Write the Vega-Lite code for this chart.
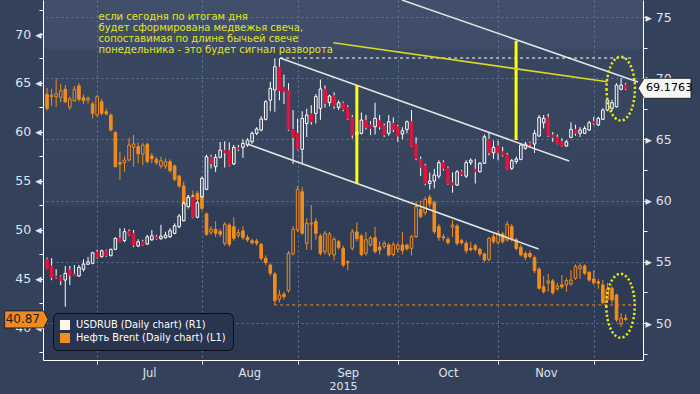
{
"$schema": "https://vega.github.io/schema/vega-lite/v6.json",
"width": 600, "height": 360,
"autosize": {"type": "none"},
"padding": {"left": 43, "top": 0, "right": 57, "bottom": 34},
"background": "#34415b",
"config": {
  "font": "DejaVu Sans",
  "view": {"stroke": null, "fill": {"gradient": "linear", "x1": 0, "y1": 0, "x2": 0, "y2": 1, "stops": [{"offset": 0, "color": "#414f6a"}, {"offset": 0.135, "color": "#3e4c67"}, {"offset": 0.137, "color": "#38465f"}, {"offset": 0.572, "color": "#35435d"}, {"offset": 0.575, "color": "#303d57"}, {"offset": 1, "color": "#2d3952"}]}}
},
"datasets": {
"leg": [{"s": "USDRUB (Daily chart) (R1)"}, {"s": "Нефть Brent (Daily chart) (L1)"}],
"one": [{}],
"c": [
{"t":-11,"uo":55.20,"uh":55.35,"ul":54.40,"uc":54.47,"bo":63.85,"bh":64.50,"bl":62.20,"bc":62.42},
{"t":-10,"uo":54.66,"uh":55.30,"ul":53.50,"uc":53.73,"bo":63.60,"bh":64.40,"bl":62.65,"bc":63.75},
{"t":-9,"uo":53.84,"uh":54.40,"ul":53.60,"uc":53.70,"bo":63.60,"bh":65.40,"bl":62.55,"bc":63.90},
{"t":-8,"uo":53.76,"uh":53.90,"ul":53.10,"uc":53.46,"bo":63.54,"bh":64.90,"bl":63.06,"bc":64.20},
{"t":-7,"uo":53.51,"uh":54.66,"ul":51.33,"uc":54.06,"bo":64.36,"bh":64.80,"bl":62.96,"bc":63.09},
{"t":-6,"uo":54.33,"uh":54.66,"ul":53.10,"uc":53.92,"bo":62.52,"bh":63.60,"bl":62.25,"bc":63.37},
{"t":-5,"uo":54.00,"uh":54.74,"ul":53.84,"uc":53.86,"bo":63.20,"bh":64.70,"bl":63.10,"bc":64.36},
{"t":-4,"uo":53.84,"uh":54.74,"ul":53.76,"uc":54.55,"bo":64.70,"bh":65.00,"bl":63.10,"bc":63.34},
{"t":-3,"uo":54.39,"uh":55.20,"ul":54.20,"uc":54.82,"bo":63.50,"bh":63.80,"bl":62.86,"bc":63.20},
{"t":-2,"uo":54.80,"uh":55.40,"ul":54.78,"uc":55.00,"bo":63.27,"bh":63.60,"bl":62.90,"bc":63.44},
{"t":-1,"uo":54.88,"uh":55.82,"ul":54.80,"uc":55.74,"bo":62.86,"bh":63.10,"bl":61.40,"bc":61.90},
{"t":0,"uo":55.78,"uh":56.00,"ul":55.25,"uc":55.37,"bo":61.73,"bh":63.80,"bl":61.56,"bc":63.60},
{"t":1,"uo":55.42,"uh":56.00,"ul":55.35,"uc":55.91,"bo":63.09,"bh":63.40,"bl":61.70,"bc":61.90},
{"t":2,"uo":55.90,"uh":56.00,"ul":55.40,"uc":55.50,"bo":62.07,"bh":62.40,"bl":61.70,"bc":61.84},
{"t":3,"uo":55.50,"uh":56.08,"ul":55.45,"uc":56.02,"bo":61.73,"bh":61.90,"bl":60.05,"bc":60.20},
{"t":4,"uo":56.02,"uh":57.00,"ul":55.96,"uc":56.92,"bo":59.93,"bh":60.10,"bl":56.40,"bc":56.46},
{"t":5,"uo":56.92,"uh":57.74,"ul":56.60,"uc":56.64,"bo":56.87,"bh":58.00,"bl":55.10,"bc":56.73},
{"t":6,"uo":56.73,"uh":57.74,"ul":56.60,"uc":57.46,"bo":56.87,"bh":57.50,"bl":55.95,"bc":57.14},
{"t":7,"uo":57.46,"uh":57.65,"ul":57.10,"uc":57.19,"bo":57.14,"bh":59.40,"bl":57.00,"bc":58.67},
{"t":8,"uo":57.33,"uh":57.60,"ul":56.20,"uc":56.37,"bo":58.44,"bh":59.70,"bl":56.46,"bc":58.78},
{"t":9,"uo":56.29,"uh":56.85,"ul":56.20,"uc":56.64,"bo":58.50,"bh":58.90,"bl":56.80,"bc":57.76},
{"t":10,"uo":56.64,"uh":56.80,"ul":56.30,"uc":56.37,"bo":57.76,"bh":58.90,"bl":56.60,"bc":58.67},
{"t":11,"uo":56.45,"uh":57.20,"ul":56.40,"uc":57.05,"bo":58.74,"bh":58.90,"bl":56.80,"bc":56.97},
{"t":12,"uo":56.80,"uh":57.60,"ul":56.70,"uc":57.13,"bo":57.55,"bh":57.85,"bl":56.80,"bc":57.30},
{"t":13,"uo":57.05,"uh":57.20,"ul":56.80,"uc":56.89,"bo":57.20,"bh":57.45,"bl":56.65,"bc":56.87},
{"t":14,"uo":56.89,"uh":58.03,"ul":56.80,"uc":57.10,"bo":56.53,"bh":57.45,"bl":56.25,"bc":57.07},
{"t":15,"uo":56.97,"uh":57.45,"ul":56.90,"uc":57.19,"bo":56.53,"bh":57.30,"bl":56.25,"bc":56.97},
{"t":16,"uo":57.05,"uh":57.75,"ul":56.95,"uc":57.54,"bo":56.97,"bh":57.20,"bl":55.85,"bc":56.05},
{"t":17,"uo":57.33,"uh":58.15,"ul":57.25,"uc":57.95,"bo":56.53,"bh":56.70,"bl":55.00,"bc":55.17},
{"t":18,"uo":57.87,"uh":58.90,"ul":57.75,"uc":58.74,"bo":55.50,"bh":55.60,"bl":54.30,"bc":54.50},
{"t":19,"uo":58.36,"uh":59.95,"ul":58.30,"uc":59.78,"bo":54.49,"bh":54.93,"bl":52.20,"bc":52.38},
{"t":20,"uo":59.50,"uh":60.46,"ul":59.45,"uc":60.27,"bo":52.55,"bh":53.60,"bl":52.10,"bc":53.34},
{"t":21,"uo":60.27,"uh":60.46,"ul":58.55,"uc":58.64,"bo":53.30,"bh":54.00,"bl":52.80,"bc":53.50},
{"t":22,"uo":58.64,"uh":59.95,"ul":58.55,"uc":59.83,"bo":53.74,"bh":54.00,"bl":52.90,"bc":53.13},
{"t":23,"uo":60.32,"uh":61.97,"ul":60.27,"uc":61.82,"bo":54.36,"bh":54.50,"bl":52.00,"bc":52.21},
{"t":24,"uo":60.92,"uh":63.75,"ul":60.85,"uc":63.58,"bo":51.63,"bh":51.80,"bl":49.40,"bc":49.56},
{"t":25,"uo":63.54,"uh":63.75,"ul":62.62,"uc":63.05,"bo":49.77,"bh":50.40,"bl":49.50,"bc":50.10},
{"t":26,"uo":62.77,"uh":63.80,"ul":62.35,"uc":63.54,"bo":50.07,"bh":50.90,"bl":49.30,"bc":49.66},
{"t":27,"uo":63.54,"uh":64.80,"ul":63.45,"uc":64.13,"bo":49.83,"bh":50.10,"bl":49.30,"bc":49.56},
{"t":28,"uo":64.08,"uh":64.85,"ul":62.70,"uc":63.91,"bo":48.64,"bh":50.80,"bl":48.40,"bc":50.58},
{"t":29,"uo":64.08,"uh":64.75,"ul":62.80,"uc":62.90,"bo":50.50,"bh":50.70,"bl":48.30,"bc":48.54},
{"t":30,"uo":63.00,"uh":64.55,"ul":62.90,"uc":64.35,"bo":50.34,"bh":51.30,"bl":48.90,"bc":49.15},
{"t":31,"uo":64.30,"uh":64.55,"ul":64.05,"uc":64.20,"bo":49.46,"bh":50.10,"bl":49.20,"bc":49.73},
{"t":32,"uo":64.35,"uh":65.00,"ul":63.50,"uc":64.68,"bo":49.90,"bh":50.40,"bl":49.00,"bc":49.25},
{"t":33,"uo":64.54,"uh":65.10,"ul":64.40,"uc":64.95,"bo":49.25,"bh":49.50,"bl":48.80,"bc":48.98},
{"t":34,"uo":64.81,"uh":65.65,"ul":64.65,"uc":65.50,"bo":48.90,"bh":49.10,"bl":48.50,"bc":48.70},
{"t":35,"uo":65.50,"uh":66.00,"ul":65.35,"uc":65.85,"bo":48.88,"bh":49.10,"bl":48.40,"bc":48.64},
{"t":36,"uo":65.77,"uh":66.90,"ul":65.65,"uc":66.67,"bo":48.54,"bh":48.70,"bl":46.90,"bc":47.11},
{"t":37,"uo":66.64,"uh":68.20,"ul":66.55,"uc":68.08,"bo":47.11,"bh":47.40,"bl":46.40,"bc":46.67},
{"t":38,"uo":68.20,"uh":69.70,"ul":67.30,"uc":69.17,"bo":46.43,"bh":46.60,"bl":45.30,"bc":45.58},
{"t":39,"uo":69.04,"uh":71.63,"ul":67.26,"uc":70.94,"bo":45.51,"bh":45.70,"bl":42.35,"bc":42.79},
{"t":40,"uo":70.90,"uh":71.63,"ul":68.20,"uc":68.98,"bo":42.93,"bh":43.90,"bl":42.60,"bc":43.37},
{"t":41,"uo":69.25,"uh":70.30,"ul":67.90,"uc":68.90,"bo":43.44,"bh":43.70,"bl":42.90,"bc":43.20},
{"t":42,"uo":68.97,"uh":69.60,"ul":65.70,"uc":65.82,"bo":43.80,"bh":47.85,"bl":43.60,"bc":47.62},
{"t":43,"uo":65.82,"uh":67.40,"ul":63.00,"uc":65.17,"bo":47.55,"bh":50.40,"bl":47.40,"bc":50.07},
{"t":44,"uo":65.50,"uh":66.70,"ul":64.10,"uc":64.19,"bo":50.00,"bh":54.50,"bl":49.80,"bc":54.15},
{"t":45,"uo":64.19,"uh":67.30,"ul":63.05,"uc":66.72,"bo":53.90,"bh":54.40,"bl":49.50,"bc":49.66},
{"t":46,"uo":66.30,"uh":67.50,"ul":65.20,"uc":66.99,"bo":48.64,"bh":51.20,"bl":47.96,"bc":50.68},
{"t":47,"uo":67.08,"uh":67.80,"ul":66.20,"uc":66.45,"bo":50.60,"bh":52.55,"bl":47.96,"bc":50.70},
{"t":48,"uo":67.13,"uh":68.70,"ul":66.30,"uc":68.50,"bo":50.85,"bh":51.20,"bl":49.00,"bc":49.66},
{"t":49,"uo":67.54,"uh":69.90,"ul":66.60,"uc":69.12,"bo":49.39,"bh":49.60,"bl":47.40,"bc":47.62},
{"t":50,"uo":69.10,"uh":69.40,"ul":67.60,"uc":67.95,"bo":47.79,"bh":49.90,"bl":47.50,"bc":49.66},
{"t":51,"uo":68.00,"uh":68.65,"ul":67.70,"uc":68.55,"bo":47.55,"bh":49.80,"bl":47.30,"bc":49.59},
{"t":52,"uo":68.55,"uh":68.85,"ul":67.50,"uc":67.73,"bo":47.45,"bh":49.30,"bl":46.90,"bc":49.05},
{"t":53,"uo":67.62,"uh":68.20,"ul":67.40,"uc":68.00,"bo":48.80,"bh":49.00,"bl":48.00,"bc":48.23},
{"t":54,"uo":67.95,"uh":68.10,"ul":67.30,"uc":67.46,"bo":48.13,"bh":48.40,"bl":46.20,"bc":46.43},
{"t":55,"uo":67.62,"uh":67.80,"ul":66.60,"uc":66.72,"bo":46.75,"bh":46.90,"bl":45.90,"bc":46.65},
{"t":56,"uo":66.80,"uh":67.00,"ul":65.10,"uc":65.36,"bo":48.13,"bh":50.10,"bl":47.90,"bc":49.80},
{"t":57,"uo":65.36,"uh":65.90,"ul":65.10,"uc":65.63,"bo":49.80,"bh":50.80,"bl":48.80,"bc":49.10},
{"t":58,"uo":65.50,"uh":67.20,"ul":65.40,"uc":66.58,"bo":49.39,"bh":49.60,"bl":47.30,"bc":47.50},
{"t":59,"uo":66.53,"uh":67.00,"ul":65.80,"uc":65.99,"bo":47.62,"bh":49.80,"bl":47.40,"bc":49.00},
{"t":60,"uo":66.20,"uh":66.50,"ul":65.35,"uc":65.90,"bo":48.47,"bh":49.40,"bl":48.30,"bc":49.18},
{"t":61,"uo":66.04,"uh":68.00,"ul":65.40,"uc":66.72,"bo":49.22,"bh":50.30,"bl":47.60,"bc":47.79},
{"t":62,"uo":66.53,"uh":67.00,"ul":65.80,"uc":66.04,"bo":48.25,"bh":48.80,"bl":47.50,"bc":47.96},
{"t":63,"uo":66.10,"uh":66.30,"ul":65.20,"uc":65.36,"bo":48.30,"bh":48.90,"bl":48.10,"bc":48.64},
{"t":64,"uo":65.50,"uh":67.00,"ul":65.30,"uc":66.45,"bo":48.47,"bh":48.70,"bl":47.30,"bc":47.45},
{"t":65,"uo":66.30,"uh":66.80,"ul":65.60,"uc":65.82,"bo":47.49,"bh":48.80,"bl":47.30,"bc":48.50},
{"t":66,"uo":66.04,"uh":66.20,"ul":64.80,"uc":65.28,"bo":48.05,"bh":48.70,"bl":47.70,"bc":48.47},
{"t":67,"uo":65.44,"uh":66.00,"ul":65.00,"uc":65.71,"bo":48.47,"bh":49.80,"bl":47.50,"bc":47.90},
{"t":68,"uo":65.82,"uh":66.55,"ul":65.50,"uc":66.45,"bo":48.45,"bh":48.60,"bl":47.90,"bc":48.10},
{"t":69,"uo":66.45,"uh":67.40,"ul":64.40,"uc":64.46,"bo":48.13,"bh":49.50,"bl":47.40,"bc":49.32},
{"t":70,"uo":64.62,"uh":65.20,"ul":63.30,"uc":63.45,"bo":49.32,"bh":52.90,"bl":49.20,"bc":52.40},
{"t":71,"uo":63.37,"uh":63.60,"ul":62.00,"uc":62.72,"bo":52.10,"bh":53.00,"bl":51.20,"bc":51.36},
{"t":72,"uo":62.83,"uh":63.00,"ul":61.25,"uc":61.40,"bo":51.77,"bh":53.40,"bl":51.50,"bc":53.13},
{"t":73,"uo":61.40,"uh":62.30,"ul":60.90,"uc":61.60,"bo":53.34,"bh":53.60,"bl":52.30,"bc":52.65},
{"t":74,"uo":61.60,"uh":62.60,"ul":61.00,"uc":62.10,"bo":52.79,"bh":53.00,"bl":49.60,"bc":49.83},
{"t":75,"uo":62.00,"uh":63.30,"ul":61.80,"uc":63.10,"bo":50.34,"bh":50.60,"bl":48.90,"bc":49.25},
{"t":76,"uo":63.10,"uh":63.30,"ul":62.45,"uc":62.64,"bo":49.30,"bh":49.60,"bl":48.90,"bc":49.20},
{"t":77,"uo":62.64,"uh":62.80,"ul":61.30,"uc":61.41,"bo":49.05,"bh":49.30,"bl":48.50,"bc":48.70},
{"t":78,"uo":61.46,"uh":62.30,"ul":60.65,"uc":61.27,"bo":50.30,"bh":51.00,"bl":49.30,"bc":50.50},
{"t":79,"uo":61.27,"uh":62.50,"ul":61.20,"uc":62.36,"bo":50.40,"bh":50.60,"bl":48.40,"bc":48.64},
{"t":80,"uo":62.36,"uh":62.50,"ul":62.00,"uc":62.17,"bo":48.90,"bh":49.10,"bl":48.50,"bc":48.70},
{"t":81,"uo":62.00,"uh":63.30,"ul":61.85,"uc":63.10,"bo":48.64,"bh":48.90,"bl":47.60,"bc":47.89},
{"t":82,"uo":63.10,"uh":63.45,"ul":62.90,"uc":63.30,"bo":48.13,"bh":48.80,"bl":47.80,"bc":47.99},
{"t":83,"uo":62.55,"uh":63.40,"ul":61.40,"uc":62.36,"bo":48.40,"bh":48.60,"bl":47.80,"bc":48.03},
{"t":84,"uo":62.36,"uh":63.15,"ul":62.30,"uc":63.05,"bo":48.03,"bh":48.20,"bl":47.30,"bc":47.55},
{"t":85,"uo":63.05,"uh":65.40,"ul":63.00,"uc":65.22,"bo":47.55,"bh":47.70,"bl":46.70,"bc":46.94},
{"t":86,"uo":65.00,"uh":65.60,"ul":63.70,"uc":63.91,"bo":47.00,"bh":49.30,"bl":46.80,"bc":49.15},
{"t":87,"uo":63.91,"uh":64.90,"ul":63.40,"uc":64.35,"bo":49.32,"bh":49.60,"bl":48.60,"bc":48.80},
{"t":88,"uo":64.46,"uh":64.90,"ul":63.30,"uc":63.91,"bo":48.70,"bh":50.00,"bl":48.50,"bc":49.66},
{"t":89,"uo":63.99,"uh":64.40,"ul":63.60,"uc":63.73,"bo":49.59,"bh":49.80,"bl":48.60,"bc":48.80},
{"t":90,"uo":63.73,"uh":63.90,"ul":62.50,"uc":62.58,"bo":48.98,"bh":50.90,"bl":48.80,"bc":50.58},
{"t":91,"uo":62.64,"uh":63.40,"ul":62.50,"uc":63.26,"bo":50.34,"bh":50.60,"bl":48.80,"bc":49.00},
{"t":92,"uo":63.20,"uh":63.60,"ul":63.00,"uc":63.40,"bo":49.00,"bh":49.20,"bl":47.90,"bc":48.10},
{"t":93,"uo":63.37,"uh":64.70,"ul":63.30,"uc":64.54,"bo":48.23,"bh":48.50,"bl":47.30,"bc":47.45},
{"t":94,"uo":64.27,"uh":64.80,"ul":64.15,"uc":64.62,"bo":47.62,"bh":47.80,"bl":46.90,"bc":47.21},
{"t":95,"uo":64.68,"uh":64.82,"ul":64.40,"uc":64.57,"bo":47.60,"bh":47.90,"bl":47.10,"bc":47.30},
{"t":96,"uo":64.62,"uh":65.78,"ul":63.90,"uc":65.50,"bo":47.17,"bh":47.40,"bl":45.60,"bc":45.85},
{"t":97,"uo":65.28,"uh":67.00,"ul":65.20,"uc":66.80,"bo":46.00,"bh":46.20,"bl":43.90,"bc":44.05},
{"t":98,"uo":66.36,"uh":67.00,"ul":65.90,"uc":66.72,"bo":44.20,"bh":45.30,"bl":43.50,"bc":43.70},
{"t":99,"uo":66.80,"uh":67.10,"ul":65.20,"uc":65.30,"bo":44.60,"bh":45.50,"bl":43.70,"bc":44.80},
{"t":100,"uo":65.36,"uh":65.60,"ul":64.80,"uc":65.17,"bo":44.80,"bh":45.00,"bl":43.40,"bc":43.60},
{"t":101,"uo":65.17,"uh":65.40,"ul":64.60,"uc":64.68,"bo":44.00,"bh":44.60,"bl":43.80,"bc":44.28},
{"t":102,"uo":64.81,"uh":65.10,"ul":64.40,"uc":64.46,"bo":44.40,"bh":45.40,"bl":44.00,"bc":44.20},
{"t":103,"uo":64.46,"uh":64.95,"ul":64.40,"uc":64.81,"bo":44.39,"bh":45.10,"bl":43.70,"bc":44.83},
{"t":104,"uo":65.17,"uh":66.40,"ul":65.10,"uc":65.82,"bo":44.50,"bh":45.90,"bl":44.30,"bc":44.90},
{"t":105,"uo":65.82,"uh":66.20,"ul":65.30,"uc":65.50,"bo":45.07,"bh":46.50,"bl":44.90,"bc":46.26},
{"t":106,"uo":65.50,"uh":66.00,"ul":65.20,"uc":65.77,"bo":46.05,"bh":46.60,"bl":45.00,"bc":46.33},
{"t":107,"uo":65.50,"uh":66.10,"ul":65.45,"uc":65.90,"bo":46.33,"bh":46.50,"bl":45.40,"bc":45.58},
{"t":108,"uo":65.77,"uh":66.52,"ul":65.70,"uc":66.36,"bo":45.68,"bh":45.80,"bl":44.70,"bc":44.90},
{"t":109,"uo":66.48,"uh":66.85,"ul":66.20,"uc":66.34,"bo":45.00,"bh":45.90,"bl":44.40,"bc":44.62},
{"t":110,"uo":66.18,"uh":66.85,"ul":66.10,"uc":66.72,"bo":44.72,"bh":45.00,"bl":44.00,"bc":44.56},
{"t":111,"uo":66.64,"uh":67.55,"ul":66.60,"uc":67.40,"bo":44.39,"bh":44.90,"bl":42.40,"bc":42.58},
{"t":112,"uo":67.40,"uh":68.35,"ul":67.30,"uc":68.22,"bo":42.86,"bh":44.60,"bl":42.60,"bc":43.95},
{"t":113,"uo":67.54,"uh":68.25,"ul":67.30,"uc":68.00,"bo":44.05,"bh":44.30,"bl":42.50,"bc":42.86},
{"t":114,"uo":67.67,"uh":69.60,"ul":67.60,"uc":69.44,"bo":43.37,"bh":43.50,"bl":40.60,"bc":40.82},
{"t":115,"uo":69.10,"uh":70.00,"ul":69.00,"uc":69.44,"bo":40.40,"bh":41.50,"bl":40.10,"bc":40.99},
{"t":116,"uo":69.44,"uh":69.60,"ul":69.05,"uc":69.18,"bo":41.00,"bh":41.40,"bl":40.70,"bc":40.87}
]},
"layer": [
 {"data": {"name": "leg"},
  "mark": {"type": "square", "opacity": 0},
  "encoding": {"color": {"field": "s", "type": "nominal",
    "scale": {"domain": ["USDRUB (Daily chart) (R1)", "Нефть Brent (Daily chart) (L1)"], "range": ["#fdf5ea", "#f28c1c"]},
    "legend": {"orient": "none", "legendX": 10, "legendY": 313, "title": null, "direction": "vertical",
      "symbolType": "square", "symbolSize": 100, "symbolOpacity": 1, "symbolStrokeWidth": 0,
      "labelColor": "#ffffff", "labelFontSize": 9.8, "labelFont": "DejaVu Sans", "labelLimit": 300, "labelOffset": 6,
      "fillColor": "#29344e", "strokeColor": "#0b0d14", "cornerRadius": 5, "padding": 7, "rowPadding": 3}}}},
 {"data": {"name": "c"},
  "mark": {"type": "rule", "color": "#f28c1c", "strokeWidth": 1, "clip": true},
  "encoding": {
   "x": {"field": "t", "type": "quantitative", "scale": {"domain": [-10.79, 118.71], "nice": false, "zero": false},
     "axis": {"orient": "bottom", "values": [0, 11.4, 23, 33.4, 44, 55, 66, 77, 88, 98.5, 109],
       "labelExpr": "datum.value == 11.4 ? 'Jul' : datum.value == 33.4 ? 'Aug' : datum.value == 55 ? 'Sep' : datum.value == 77 ? 'Oct' : datum.value == 98.5 ? 'Nov' : ''",
       "labelOverlap": false, "labelFlush": false, "labelBound": false,
       "labelColor": "#dfe5ef", "labelFontSize": 11.5, "labelFont": "DejaVu Sans", "labelPadding": 3,
       "domainColor": "#ffffff", "domainWidth": 1, "tickColor": "#ffffff", "tickSize": 4,
       "tickOpacity": {"condition": {"test": "indexof([0,23,44,66,88,109], datum.value) >= 0", "value": 1}, "value": 0},
       "grid": true, "gridColor": "#5f7896", "gridDash": [2, 3], "gridWidth": 1,
       "gridOpacity": {"condition": {"test": "indexof([0,23,44,66,88,109], datum.value) >= 0", "value": 1}, "value": 0},
       "title": "2015", "titleColor": "#dfe5ef", "titleFontSize": 11, "titleFontWeight": "normal", "titleFont": "DejaVu Sans", "titlePadding": 2}},
   "y": {"field": "bl", "type": "quantitative", "scale": {"domain": [36.73, 73.47], "nice": false, "zero": false},
     "axis": {"orient": "left", "values": [37.5, 40, 42.5, 45, 47.5, 50, 52.5, 55, 57.5, 60, 62.5, 65, 67.5, 70, 72.5],
       "labelExpr": "datum.value % 5 === 0 ? datum.label + ' ◂' : ''", "labelOverlap": false, "labelFlush": false,
       "labelColor": "#dfe5ef", "labelFontSize": 12.5, "labelFont": "DejaVu Sans", "labelPadding": -2,
       "domainColor": "#ffffff", "tickColor": "#ffffff", "tickSize": 4, "grid": false, "title": null}},
   "y2": {"field": "bh"}}},
 {"data": {"name": "c"},
  "mark": {"type": "bar", "width": 2.6, "strokeWidth": 1, "clip": true},
  "encoding": {
   "x": {"field": "t", "type": "quantitative", "scale": {"domain": [-10.79, 118.71], "nice": false, "zero": false}, "axis": null},
   "y": {"field": "bo", "type": "quantitative", "scale": {"domain": [36.73, 73.47], "nice": false, "zero": false}, "axis": null},
   "y2": {"field": "bc"},
   "fill": {"condition": {"test": "datum.bc >= datum.bo", "value": "#313e58"}, "value": "#f28c1c"},
   "stroke": {"value": "#f28c1c"}}},
 {"data": {"name": "one"},
  "mark": {"type": "rule", "color": "#f28c1c", "strokeWidth": 1, "strokeDash": [3, 3]},
  "encoding": {
   "x": {"datum": 38.85, "type": "quantitative", "scale": {"domain": [-10.79, 118.71], "nice": false, "zero": false}, "axis": null}, "x2": {"datum": 118.1},
   "y": {"datum": 42.35, "type": "quantitative", "scale": {"domain": [36.73, 73.47], "nice": false, "zero": false}, "axis": null}}},
 {"data": {"name": "c"},
  "mark": {"type": "rule", "color": "#ffffff", "strokeWidth": 1, "clip": true},
  "encoding": {
   "x": {"field": "t", "type": "quantitative", "scale": {"domain": [-10.79, 118.71], "nice": false, "zero": false}, "axis": null},
   "y": {"field": "ul", "type": "quantitative", "scale": {"domain": [46.98, 76.39], "nice": false, "zero": false},
     "axis": {"orient": "right", "values": [47.5, 50, 52.5, 55, 57.5, 60, 62.5, 65, 67.5, 70, 72.5, 75],
       "labelExpr": "datum.value % 5 === 0 ? '▸ ' + datum.label : ''", "labelOverlap": false, "labelFlush": false,
       "labelColor": "#dfe5ef", "labelFontSize": 12.5, "labelFont": "DejaVu Sans", "labelPadding": -2,
       "domainColor": "#ffffff", "tickColor": "#ffffff", "tickSize": 4,
       "grid": true, "gridColor": "#5f7896", "gridDash": [2, 3], "gridWidth": 1,
       "gridOpacity": {"condition": {"test": "datum.value % 5 === 0", "value": 1}, "value": 0},
       "title": null}},
   "y2": {"field": "uh"}}},
 {"data": {"name": "c"},
  "mark": {"type": "bar", "width": 2.6, "strokeWidth": 1, "clip": true},
  "encoding": {
   "x": {"field": "t", "type": "quantitative", "scale": {"domain": [-10.79, 118.71], "nice": false, "zero": false}, "axis": null},
   "y": {"field": "uo", "type": "quantitative", "scale": {"domain": [46.98, 76.39], "nice": false, "zero": false}, "axis": null},
   "y2": {"field": "uc"},
   "fill": {"condition": {"test": "datum.uc >= datum.uo", "value": "#37455f"}, "value": "#e0143c"},
   "stroke": {"condition": {"test": "datum.uc >= datum.uo", "value": "#ffffff"}, "value": "#e0143c"}}},
 {"data": {"name": "one"},
  "mark": {"type": "rule", "color": "#e4e4e4", "strokeWidth": 1.5},
  "encoding": {"x": {"datum": 66.9, "type": "quantitative", "scale": {"domain": [-10.79, 118.71], "nice": false, "zero": false}, "axis": null}, "x2": {"datum": 118.71},
   "y": {"datum": 76.39, "type": "quantitative", "scale": {"domain": [46.98, 76.39], "nice": false, "zero": false}, "axis": null}, "y2": {"datum": 69.69}}},
 {"data": {"name": "one"},
  "mark": {"type": "rule", "color": "#e4e4e4", "strokeWidth": 1.5},
  "encoding": {"x": {"datum": 40.15, "type": "quantitative", "scale": {"domain": [-10.79, 118.71], "nice": false, "zero": false}, "axis": null}, "x2": {"datum": 103.6},
   "y": {"datum": 71.65, "type": "quantitative", "scale": {"domain": [46.98, 76.39], "nice": false, "zero": false}, "axis": null}, "y2": {"datum": 63.24}}},
 {"data": {"name": "one"},
  "mark": {"type": "rule", "color": "#e4e4e4", "strokeWidth": 1.5},
  "encoding": {"x": {"datum": 33.02, "type": "quantitative", "scale": {"domain": [-10.79, 118.71], "nice": false, "zero": false}, "axis": null}, "x2": {"datum": 96.9},
   "y": {"datum": 64.62, "type": "quantitative", "scale": {"domain": [46.98, 76.39], "nice": false, "zero": false}, "axis": null}, "y2": {"datum": 56.05}}},
 {"data": {"name": "one"},
  "mark": {"type": "rule", "color": "#ffffff", "strokeWidth": 1, "strokeDash": [3, 3]},
  "encoding": {"x": {"datum": 40.15, "type": "quantitative", "scale": {"domain": [-10.79, 118.71], "nice": false, "zero": false}, "axis": null}, "x2": {"datum": 117.4},
   "y": {"datum": 71.65, "type": "quantitative", "scale": {"domain": [46.98, 76.39], "nice": false, "zero": false}, "axis": null}}},
 {"data": {"name": "one"},
  "mark": {"type": "rule", "color": "#ffff00", "strokeWidth": 3},
  "encoding": {"x": {"datum": 57.0, "type": "quantitative", "scale": {"domain": [-10.79, 118.71], "nice": false, "zero": false}, "axis": null},
   "y": {"datum": 69.44, "type": "quantitative", "scale": {"domain": [46.98, 76.39], "nice": false, "zero": false}, "axis": null}, "y2": {"datum": 61.44}}},
 {"data": {"name": "one"},
  "mark": {"type": "rule", "color": "#ffff00", "strokeWidth": 3},
  "encoding": {"x": {"datum": 91.95, "type": "quantitative", "scale": {"domain": [-10.79, 118.71], "nice": false, "zero": false}, "axis": null},
   "y": {"datum": 73.04, "type": "quantitative", "scale": {"domain": [46.98, 76.39], "nice": false, "zero": false}, "axis": null}, "y2": {"datum": 64.95}}},
 {"data": {"name": "one"},
  "mark": {"type": "rule", "color": "#d9d91e", "strokeWidth": 1.6},
  "encoding": {"x": {"datum": 51.85, "type": "quantitative", "scale": {"domain": [-10.79, 118.71], "nice": false, "zero": false}, "axis": null}, "x2": {"datum": 111.95},
   "y": {"datum": 72.9, "type": "quantitative", "scale": {"domain": [46.98, 76.39], "nice": false, "zero": false}, "axis": null}, "y2": {"datum": 69.71}}},
 {"data": {"name": "one"},
  "mark": {"type": "point", "shape": "M-0.444,0A0.444,1 0 1,0 0.444,0A0.444,1 0 1,0 -0.444,0Z", "size": 4096, "filled": false, "stroke": "#e8e812", "strokeWidth": 2.5, "strokeDash": [2.2, 2.2], "opacity": 1},
  "encoding": {"x": {"datum": 114.92, "type": "quantitative", "scale": {"domain": [-10.79, 118.71], "nice": false, "zero": false}, "axis": null},
   "y": {"datum": 69.15, "type": "quantitative", "scale": {"domain": [46.98, 76.39], "nice": false, "zero": false}, "axis": null}}},
 {"data": {"name": "one"},
  "mark": {"type": "point", "shape": "M-0.444,0A0.444,1 0 1,0 0.444,0A0.444,1 0 1,0 -0.444,0Z", "size": 4096, "filled": false, "stroke": "#e8e812", "strokeWidth": 2.5, "strokeDash": [2.2, 2.2], "opacity": 1},
  "encoding": {"x": {"datum": 114.87, "type": "quantitative", "scale": {"domain": [-10.79, 118.71], "nice": false, "zero": false}, "axis": null},
   "y": {"datum": 51.41, "type": "quantitative", "scale": {"domain": [46.98, 76.39], "nice": false, "zero": false}, "axis": null}}},
 {"data": {"name": "one"},
  "mark": {"type": "text", "align": "left", "baseline": "top", "fontSize": 10, "lineHeight": 11.3, "font": "DejaVu Sans", "color": "#e2e61c",
    "text": ["если сегодня по итогам дня", "будет сформирована медвежья свеча,", "сопоставимая по длине бычьей свече", "понедельника - это будет сигнал разворота"]},
  "encoding": {"x": {"datum": 0.3, "type": "quantitative", "scale": {"domain": [-10.79, 118.71], "nice": false, "zero": false}, "axis": null},
   "y": {"datum": 75.45, "type": "quantitative", "scale": {"domain": [46.98, 76.39], "nice": false, "zero": false}, "axis": null}}},
 {"data": {"name": "one"},
  "mark": {"type": "point", "shape": "M0,0L-0.5,-1L-5.1,-1L-5.1,1L-0.5,1Z", "size": 289, "filled": true, "fill": "#f08a1f", "stroke": "#141414", "strokeWidth": 0.8, "opacity": 1, "clip": false},
  "encoding": {
   "x": {"datum": -10.79, "type": "quantitative", "scale": {"domain": [-10.79, 118.71], "nice": false, "zero": false}, "axis": null},
   "y": {"datum": 40.87, "type": "quantitative", "scale": {"domain": [36.73, 73.47], "nice": false, "zero": false}, "axis": null}}},
 {"data": {"name": "one"},
  "mark": {"type": "text", "text": "40.87", "align": "right", "baseline": "middle", "dx": -8, "fontSize": 12, "font": "DejaVu Sans", "color": "#1a1a1a", "clip": false},
  "encoding": {
   "x": {"datum": -10.79, "type": "quantitative", "scale": {"domain": [-10.79, 118.71], "nice": false, "zero": false}, "axis": null},
   "y": {"datum": 40.87, "type": "quantitative", "scale": {"domain": [36.73, 73.47], "nice": false, "zero": false}, "axis": null}}},
 {"data": {"name": "one"},
  "mark": {"type": "point", "shape": "M0,0L0.62,-1L5.3,-1L5.3,1L0.62,1Z", "size": 400, "filled": true, "fill": "#f6f6f4", "stroke": "#111111", "strokeWidth": 0.8, "opacity": 1, "clip": false},
  "encoding": {"x": {"datum": 118.71, "type": "quantitative", "scale": {"domain": [-10.79, 118.71], "nice": false, "zero": false}, "axis": null},
   "y": {"datum": 69.1763, "type": "quantitative", "scale": {"domain": [46.98, 76.39], "nice": false, "zero": false}, "axis": null}}},
 {"data": {"name": "one"},
  "mark": {"type": "text", "text": "69.1763", "align": "left", "baseline": "middle", "dx": 8, "fontSize": 11.2, "font": "DejaVu Sans", "color": "#000000", "clip": false},
  "encoding": {"x": {"datum": 118.71, "type": "quantitative", "scale": {"domain": [-10.79, 118.71], "nice": false, "zero": false}, "axis": null},
   "y": {"datum": 69.1763, "type": "quantitative", "scale": {"domain": [46.98, 76.39], "nice": false, "zero": false}, "axis": null}}}
],
"resolve": {"scale": {"y": "independent"}, "axis": {"x": "independent"}}
}
